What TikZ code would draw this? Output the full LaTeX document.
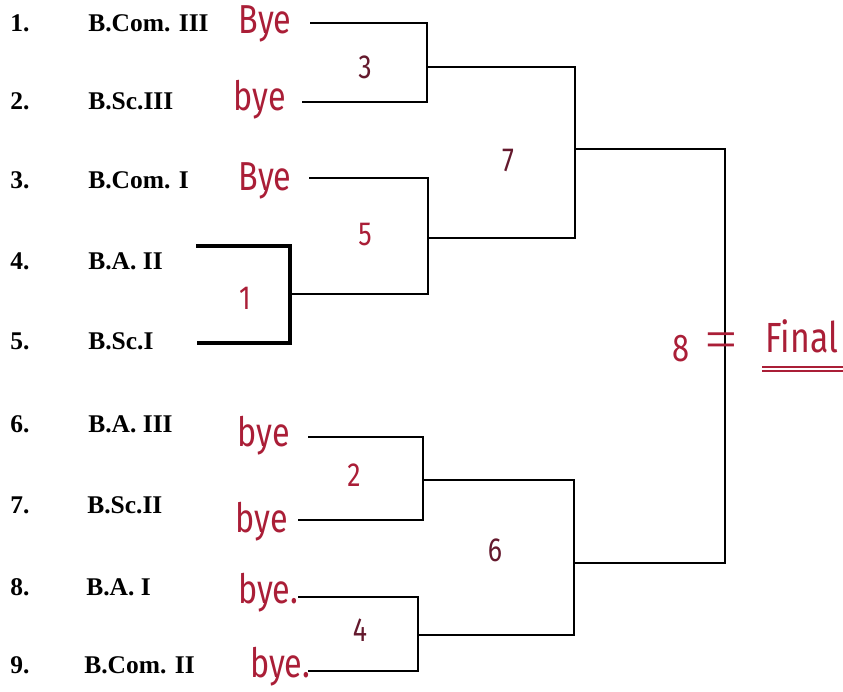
\documentclass[tikz,border=0pt]{standalone}
\usepackage{fontspec}
\setmainfont{Liberation Serif}
\newfontfamily\hand{Fira Sans}[FakeStretch=0.8]
\definecolor{ink}{RGB}{170,30,55}
\definecolor{darkink}{RGB}{100,25,45}

\begin{document}
\begin{tikzpicture}[x=0.02cm, y=-0.02cm,
    rank/.style ={anchor=base west, inner sep=0pt, font=\fontsize{14.5}{16}\selectfont\bfseries},
    team/.style ={anchor=base west, inner sep=0pt, font=\fontsize{14.5}{16}\selectfont\bfseries},
    bye/.style ={anchor=base, text=ink, font=\hand\fontsize{23}{25}\selectfont},
    game/.style ={text=ink, font=\hand\fontsize{19}{21}\selectfont},
    wire/.style ={line width=1.1pt}]
   \useasboundingbox (0,0) rectangle (843,691);
   % entries
   \node[rank] (r1) at (10,31)  {1.};
   \node[rank] (r2) at (10,109) {2.};
   \node[rank] (r3) at (10,188) {3.};
   \node[rank] (r4) at (10,269) {4.};
   \node[rank] (r5) at (10,349) {5.};
   \node[rank] (r6) at (10,432) {6.};
   \node[rank] (r7) at (10,513) {7.};
   \node[rank] (r8) at (10,595) {8.};
   \node[rank] (r9) at (10,673) {9.};
   \node[team] (t1) at (88,31)  {B.Com. III};
   \node[team] (t2) at (88,109) {B.Sc.III};
   \node[team] (t3) at (88,188) {B.Com. I};
   \node[team] (t4) at (88,269) {B.A. II};
   \node[team] (t5) at (88,349) {B.Sc.I};
   \node[team] (t6) at (88,432) {B.A. III};
   \node[team] (t7) at (87,513) {B.Sc.II};
   \node[team] (t8) at (86,595) {B.A. I};
   \node[team] (t9) at (84,673) {B.Com. II};
   \node[bye] (b1) at (265,33)  {Bye};
   \node[bye] (b2) at (260,110) {bye};
   \node[bye] (b3) at (265,190) {Bye};
   \node[bye] (b6) at (264,446) {bye};
   \node[bye] (b7) at (262,532) {bye};
   \node[bye] (b8) at (268,603) {bye.};
   \node[bye] (b9) at (280,677) {bye.};
   % matches
   \node[game, text=darkink] (g3) at (365,67)  {3};
   \node[game] (g5) at (365,235) {5};
   \node[game] (g1) at (245,298) {1};
   \node[game, text=darkink] (g7) at (508,160) {7};
   \node[game] (g2) at (354,475) {2};
   \node[game, text=darkink] (g4) at (360,630) {4};
   \node[game, text=darkink] (g6) at (495,550) {6};
   \coordinate (s1) at (310,23);
   \coordinate (s2) at (302,102);
   \coordinate (s3) at (309,178);
   \coordinate (s4) at (196,246);
   \coordinate (s5) at (197,343);
   \coordinate (s6) at (308,437);
   \coordinate (s7) at (298,520);
   \coordinate (s8) at (298,597);
   \coordinate (s9) at (308,671);
   \coordinate (c1) at (290,294);
   \coordinate (c3) at (427,67);
   \coordinate (c5) at (428,238);
   \coordinate (c2) at (423,480);
   \coordinate (c4) at (418,635);
   \coordinate (c7) at (575,149);
   \coordinate (c6) at (574,563);
   \coordinate (c8) at (725,350);
   \draw[wire, line width=1.8pt] (s4) -| (c1) |- (s5);
   \draw[wire] (s1) -| (c3) |- (s2);
   \draw[wire] (s3) -| (c5) |- (c1);
   \draw[wire] (s6) -| (c2) |- (s7);
   \draw[wire] (s8) -| (c4) |- (s9);
   \draw[wire] (c3) -| (c7) |- (c5);
   \draw[wire] (c2) -| (c6) |- (c4);
   \draw[wire] (c7) -| (c8) |- (c6);
   % final
   \node[game, font=\hand\fontsize{22}{24}\selectfont] (g8) at (681,349) {8};
   \node[game, font=\fontsize{32}{34}\selectfont] (eq) at (721,346) {=};
   \node[game, anchor=base west, inner sep=0pt, font=\hand\fontsize{24}{26}\selectfont] (fin) at (765,352) {Final};
   \coordinate (u1) at (762,367);
   \coordinate (u2) at (843,367);
   \coordinate (u3) at (762,371);
   \coordinate (u4) at (843,371);
   \draw[ink, line width=0.8pt] (u1) -- (u2);
   \draw[ink, line width=0.8pt] (u3) -- (u4);
 \end{tikzpicture}
\end{document}
